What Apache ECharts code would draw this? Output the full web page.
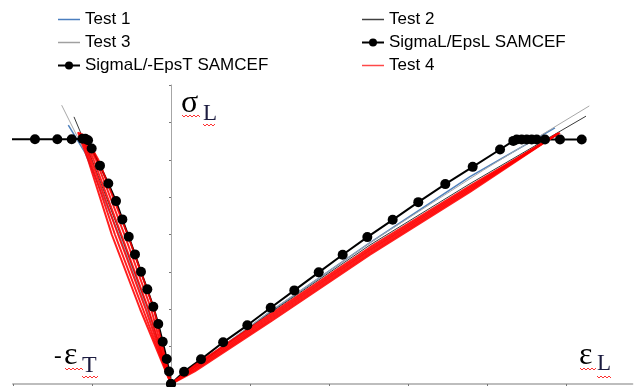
<!DOCTYPE html>
<html><head><meta charset="utf-8">
<script src="https://cdn.jsdelivr.net/npm/echarts@6/dist/echarts.min.js"></script>
<style>html,body{margin:0;padding:0;background:#fff}#c{width:635px;height:387px}</style>
</head><body><div id="c"></div>
<script>
// ---- data (x: strain units, y: stress units) ----
const xTicks = [-2,-1,0,1,2,3,4,5];
const yTicks = [0,1,2,3,4,5,6,7,8];

const test1 = [[-1.3,6.925],[-1.09,6.2],[-0.66,4.0],[-0.30,2.0],[0,0],[1.253,1.93],[2.519,3.78],[3.785,5.55],[4.86,6.855]];
const test2 = [[-1.228,7.147],[-1.0,6.0],[-0.64,4.0],[-0.29,2.0],[0,0],[1.253,1.90],[2.519,3.72],[3.785,5.36],[5.253,7.166]];
const test3 = [[-1.384,7.46],[-1.04,6.0],[-0.66,4.0],[-0.30,2.0],[0,0],[1.253,1.94],[2.519,3.78],[3.953,5.72],[5.295,7.44]];

const samcefL = [[0,0],[0.165,0.33],[0.38,0.66],[0.66,1.115],[0.966,1.57],[1.262,2.04],[1.561,2.505],[1.87,2.987],[2.173,3.457],[2.485,3.93],[2.806,4.393],[3.13,4.866],[3.472,5.348],[3.819,5.81],[4.165,6.275],[4.333,6.505],[4.376,6.543],[4.439,6.543],[4.503,6.543],[4.566,6.543],[4.629,6.543],[4.734,6.543],[4.924,6.543],[5.199,6.543]];
const samcefT = [[0,0],[-0.025,0.334],[-0.054,0.668],[-0.105,1.131],[-0.161,1.604],[-0.224,2.067],[-0.300,2.532],[-0.380,3.003],[-0.456,3.468],[-0.535,3.939],[-0.616,4.404],[-0.696,4.893],[-0.794,5.366],[-0.899,5.842],[-1.004,6.30],[-1.05,6.52],[-1.085,6.56],[-1.12,6.56],[-1.257,6.55],[-1.439,6.55],[-1.722,6.55],[-2.3,6.55]];

const test4Left = [
  [[-1.177,6.738],[-1.05,6.0],[-0.75,4.0],[-0.39,2.0],[0,0]],
  [[-1.16,6.73],[-1.03,6.0],[-0.71,4.0],[-0.355,2.0],[0,0]],
  [[-1.15,6.72],[-1.01,6.0],[-0.67,4.0],[-0.32,2.0],[0,0]],
  [[-1.13,6.70],[-0.98,6.0],[-0.63,4.0],[-0.285,2.0],[0,0]],
  [[-1.11,6.67],[-0.95,6.0],[-0.59,4.0],[-0.25,2.0],[0,0]],
  [[-1.09,6.64],[-0.92,6.0],[-0.55,4.0],[-0.215,2.0],[0,0]]
];
const test4Right = [
  [[0,0],[0.3,0.50],[1.253,1.86],[2.519,3.66],[3.785,5.30],[4.924,6.72]],
  [[0,0],[0.3,0.46],[1.253,1.81],[2.519,3.61],[3.785,5.26],[4.91,6.71]],
  [[0,0],[0.3,0.42],[1.253,1.76],[2.519,3.56],[3.785,5.22],[4.90,6.70]],
  [[0,0],[0.3,0.38],[1.253,1.71],[2.519,3.51],[3.785,5.18],[4.89,6.69]],
  [[0,0],[0.3,0.34],[1.253,1.66],[2.519,3.46],[3.785,5.14],[4.88,6.68]]
];

const names = ['Test 1','Test 2','Test 3','SigmaL/EpsL SAMCEF','SigmaL/-EpsT SAMCEF','Test 4'];
const colors = ['#4f81bd','#3a3a3a','#a8a8a8','#000000','#000000','#ff0000'];

// ---- chart ----
const chart = echarts.init(document.getElementById('c'), null, {renderer:'canvas'});
const serif = '"Liberation Serif", "DejaVu Serif", serif';
const sans = '"Liberation Sans", Arial, sans-serif';

function squiggle(x0, x1, y) {
  const pts = [];
  let up = true;
  for (let x = x0; x <= x1; x += 2) { pts.push([x, y + (up ? -1 : 1)]); up = !up; }
  return {type:'polyline', silent:true, z:100, shape:{points:pts}, style:{stroke:'#ff3030', lineWidth:1, fill:null}};
}
function txt(s, x, y, size, color, font) {
  return {type:'text', x:x, y:y, z:100, silent:true,
    style:{text:s, font: size + 'px ' + (font||serif), fill: color||'#000', verticalAlign:'middle', align:'left'}};
}

const lineBase = {type:'line', showSymbol:false, symbol:'none', clip:true, smooth:false, animation:false};
const series = [
  Object.assign({}, lineBase, {name:names[0], data:test1, color:colors[0], lineStyle:{color:colors[0], width:1.5}, itemStyle:{color:colors[0]}}),
  Object.assign({}, lineBase, {name:names[1], data:test2, color:colors[1], lineStyle:{color:colors[1], width:1}, itemStyle:{color:colors[1]}}),
  Object.assign({}, lineBase, {name:names[2], data:test3, color:colors[2], lineStyle:{color:colors[2], width:1}, itemStyle:{color:colors[2]}}),
  {type:'line', name:names[3], data:samcefL, symbol:'circle', symbolSize:10, showSymbol:true, clip:true, animation:false,
    color:'#000', lineStyle:{color:'#000', width:2}, itemStyle:{color:'#000'}},
  {type:'line', name:names[4], data:samcefT, symbol:'circle', symbolSize:10, showSymbol:true, clip:true, animation:false,
    color:'#000', lineStyle:{color:'#000', width:2}, itemStyle:{color:'#000'}}
];
test4Left.concat(test4Right).forEach(function(d){
  series.push(Object.assign({}, lineBase, {name:names[5], data:d, color:colors[5], lineStyle:{color:'rgba(255,0,0,0.88)', width:2}, itemStyle:{color:colors[5]}}));
});

const lineIcon = 'path://M0,0 L44,0 L44,3 L0,3 Z';
function legItem(name, color) {
  return {name:name, icon:lineIcon, itemStyle:{color:color, borderWidth:0, opacity:1}};
}
const legendCommon = {orient:'vertical', itemWidth:22, itemHeight:10, itemGap:6, top:11, padding:0,
  textStyle:{fontFamily:sans, fontSize:17, color:'#000', lineHeight:17}, selectedMode:false};

chart.setOption({
  animation:false,
  backgroundColor:'#fff',
  legend:[
    Object.assign({}, legendCommon, {left:57, data:[legItem(names[0], '#4a7ebf'), legItem(names[2], '#a0a0a0'), names[4]]}),
    Object.assign({}, legendCommon, {left:361, data:[legItem(names[1], '#404040'), names[3], legItem(names[5], '#ff4848')]})
  ],
  grid:{left:13, top:85, width:619.36, height:299, containLabel:false},
  xAxis:{type:'value', min:-2, max:5.84, interval:1,
    axisLine:{onZero:true, lineStyle:{color:'#bdbdbd', width:2}},
    axisTick:{show:true, length:2, customValues:xTicks, lineStyle:{color:'#777'}},
    axisLabel:{show:false}, splitLine:{show:false}},
  yAxis:{type:'value', min:0, max:8, interval:1,
    axisLine:{onZero:true, lineStyle:{color:'#a6a6a6', width:1}},
    axisTick:{show:true, length:2, customValues:yTicks, lineStyle:{color:'#777'}},
    axisLabel:{show:false}, splitLine:{show:false}},
  series: series,
  graphic:[
    txt('σ', 181, 104, 32),
    txt('L', 203, 114, 23, '#1c1c40'),
    squiggle(182, 200, 116),
    squiggle(203, 216, 125),
    txt('-', 54, 357, 30, '#000', 'bold ' + sans),
    txt('ε', 64, 356, 32),
    txt('T', 82, 366, 24, '#1c1c40'),
    squiggle(65, 83, 369),
    squiggle(82, 98, 377),
    txt('ε', 579, 356, 32),
    txt('L', 597, 364, 23, '#1c1c40'),
    squiggle(580, 597, 369),
    squiggle(597, 611, 377)
  ]
});
</script>
</body></html>
